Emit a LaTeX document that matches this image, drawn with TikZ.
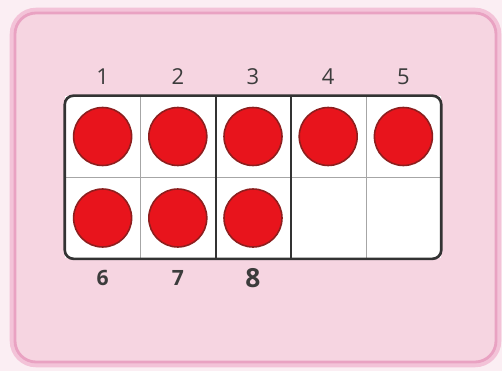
\documentclass[tikz,border=0pt]{standalone}
\usepackage{fontspec}
\setmainfont{Open Sans}
\usepackage{xcolor}
\usetikzlibrary{positioning}

\definecolor{cardfill}{HTML}{F6D5E1}
\definecolor{cardedge}{HTML}{E9A2C2}
\definecolor{cardglow}{HTML}{F3C3D8}
\definecolor{ctrred}{HTML}{E8141C}
\definecolor{ctredge}{HTML}{8E1E1E}
\definecolor{numgray}{HTML}{3C3C3C}

\begin{document}
\begin{tikzpicture}[
    x=0.02cm, y=-0.02cm,
    cell/.style={rectangle, fill=white, minimum width=1.5cm, minimum height=1.62cm, inner sep=0pt},
    counter/.style={circle, fill=ctrred, draw=ctredge, line width=0.9pt, minimum size=1.16cm, inner sep=0pt},
    toplabel/.style={text=numgray, font=\fontsize{12.5}{14}\selectfont},
    botlabel/.style={text=numgray, font=\fontsize{12}{14}\selectfont\bfseries},
    divider/.style={draw=gray!70, line width=0.6pt},
    thickdiv/.style={draw=black!80, line width=1pt}
]
% background and card
\useasboundingbox[fill=white!60!cardfill] (0,0) rectangle (502,371);
\draw[cardglow, line width=6pt, rounded corners=12pt] (15,13) rectangle (496,362);
\draw[cardedge, fill=cardfill, line width=1.6pt, rounded corners=12pt] (15,13) rectangle (496,362);

% ten frame cells
\foreach \i in {1,...,5} {
  \node[cell] (c\i) at ({65+75.2*(\i-0.5)},136.5) {};
  \pgfmathtruncatemacro{\j}{\i+5}
  \node[cell] (c\j) at ({65+75.2*(\i-0.5)},218) {};
}

% inner lines
\draw[divider] (c1.south west) -- (c5.south east);
\draw[divider] (c1.north east) -- (c6.south east);
\draw[divider] (c4.north east) -- (c9.south east);
\draw[thickdiv] (c2.north east) -- (c7.south east);
\draw[thickdiv] (c3.north east) -- (c8.south east);
\draw[line width=1.5pt, black!80, rounded corners=5pt] (c1.north west) rectangle (c10.south east);

% counters
\foreach \k in {1,...,8}
  \node[counter] (r\k) at (c\k) {};

% numbers
\node[toplabel, above=0.1cm of c1] (n1) {1};
\node[toplabel, above=0.1cm of c2] (n2) {2};
\node[toplabel, above=0.1cm of c3] (n3) {3};
\node[toplabel, above=0.1cm of c4] (n4) {4};
\node[toplabel, above=0.1cm of c5] (n5) {5};
\node[botlabel, below=0.1cm of c6] (n6) {6};
\node[botlabel, below=0.1cm of c7] (n7) {7};
\node[botlabel, below=0.06cm of c8, font=\fontsize{15}{17}\selectfont\bfseries] (n8) {8};
\end{tikzpicture}
\end{document}
